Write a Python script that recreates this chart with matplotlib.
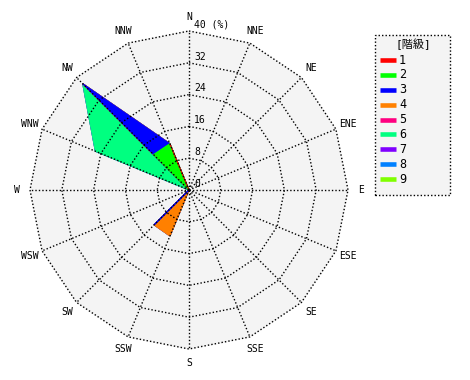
import numpy as np
import matplotlib
matplotlib.use("Agg")
import matplotlib.pyplot as plt
from matplotlib.patches import Rectangle

# 16 compass directions, clockwise from north
directions = ["N", "NNE", "NE", "ENE", "E", "ESE", "SE", "SSE",
              "S", "SSW", "SW", "WSW", "W", "WNW", "NW", "NNW"]

# frequency (%) per class, indexed like `directions`
class_labels = ["1", "2", "3", "4", "5", "6", "7", "8", "9"]
class_colors = ["#ff0000", "#00ff00", "#0000ff", "#ff8000", "#ff0080",
                "#00ff80", "#8000ff", "#0080ff", "#80ff00"]

zero = [0.0] * 16
c1 = [0, 0, 0, 0, 0, 0, 0, 0, 0, 0, 0, 0, 0, 0, 0, 12.6]
c2 = [0, 0, 0, 0, 0, 0, 0, 0, 0, 0, 0, 0, 0, 0, 12.6, 0]
c3 = [0, 0, 0, 0, 0, 0, 0, 0, 0, 0, 12.4, 0, 0, 0, 25.2, 0]
c4 = [0, 0, 0, 0, 0, 0, 0, 0, 0, 12.5, 0, 0, 0, 0, 0, 0]
c5 = zero
c6 = [0, 0, 0, 0, 0, 0, 0, 0, 0, 0, 0, 0, 0, 25.5, 0, 0]
c7 = zero
c8 = zero
c9 = zero
classes = [c1, c2, c3, c4, c5, c6, c7, c8, c9]

ring_values = [8, 16, 24, 32, 40]
rmax = 40

# geometry: center at pixel (189,190), 40% -> 159 px
W, H = 470, 380
cx, cy = 189, 190
s = 159 / rmax

fig = plt.figure(figsize=(W / 100, H / 100), dpi=100)
ax = fig.add_axes([0, 0, 1, 1])
ax.set_xlim(-cx / s, (W - cx) / s)
ax.set_ylim(-(H - cy) / s, cy / s)
ax.axis("off")

theta = np.deg2rad(np.arange(16) * 22.5)
sx, sy = np.sin(theta), np.cos(theta)

font = ["DejaVu Sans Mono", "Noto Sans CJK JP"]

# background of the plot area
ax.fill(rmax * sx, rmax * sy, color="#f4f4f4", zorder=0)

# stacked polygons, largest cumulative first
cum = np.cumsum(np.array(classes), axis=0)
for k in range(8, -1, -1):
    r = cum[k]
    ax.fill(r * sx, r * sy, facecolor=class_colors[k], edgecolor=class_colors[k],
            linewidth=0.8, zorder=2 + (8 - k) * 0.01)

# grid
dots = (0, (1, 1.5))
for rv in ring_values:
    ax.plot(np.append(rv * sx, rv * sx[0]), np.append(rv * sy, rv * sy[0]),
            color="black", lw=1, ls=dots, zorder=5)
for i in range(16):
    ax.plot([0, rmax * sx[i]], [0, rmax * sy[i]], color="black", lw=1, ls=dots, zorder=5)

# radial tick labels
ax.text(1.3, 0.3, "0", fontsize=7, family=font, ha="left", va="bottom", zorder=6)
for rv in ring_values:
    lab = str(rv) if rv < rmax else "40 (%)"
    ax.text(1.3, rv + 0.3, lab, fontsize=7, family=font, ha="left", va="bottom", zorder=6)

# direction labels
for i, d in enumerate(directions):
    ax.text(43.4 * sx[i], 43.4 * sy[i], d, fontsize=7, family=font,
            ha="center", va="center")

# legend box, in figure pixels (top-left origin converted)
def fx(px):
    return px / W

def fy(py):
    return 1 - py / H

tf = fig.transFigure
fig.patches.append(Rectangle((fx(375), fy(195)), fx(450) - fx(375), fy(35) - fy(195),
                             transform=tf, facecolor="#f4f4f4", edgecolor="black",
                             linestyle=dots, linewidth=1, zorder=1))
fig.text(fx(413), fy(44), "[階級]", family=font, fontsize=8, ha="center", va="center")
for i, (lab, col) in enumerate(zip(class_labels, class_colors)):
    ypx = 60 + i * 14.9
    fig.add_artist(plt.Line2D([fx(380), fx(396)], [fy(ypx), fy(ypx)], color=col,
                              lw=3.3, solid_capstyle="butt", transform=tf))
    fig.text(fx(399), fy(ypx), lab, family=font, fontsize=8.5, ha="left", va="center")

fig.savefig("out.png", dpi=100)
